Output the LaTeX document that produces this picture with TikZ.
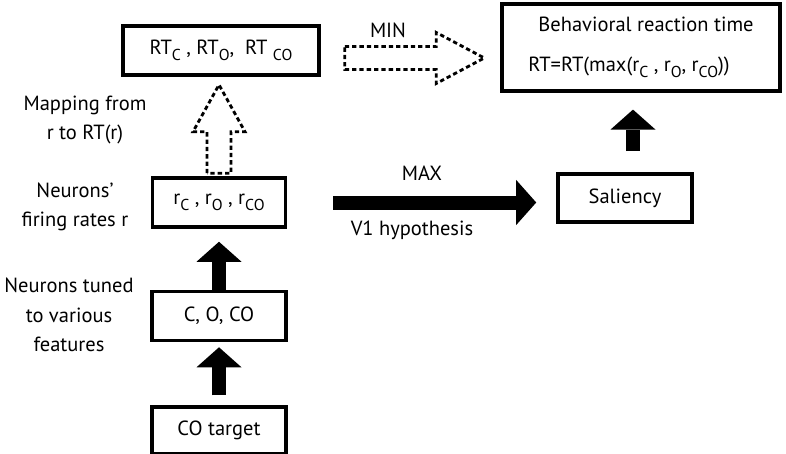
\documentclass[tikz,border=0pt]{standalone}
\usepackage{fontspec}
\setmainfont{PT Sans}
\usetikzlibrary{positioning, calc, arrows.meta}
\newcommand{\lsub}[1]{\raisebox{-0.6ex}{\fontsize{13.5}{14}\selectfont #1}}
\tikzset{box/.style={draw, line width=3pt, inner sep=0pt, align=center},
         lbl/.style={align=center},
         fat/.style={line width=0.42cm, -{Triangle[width=1.35cm, length=0.6cm, line width=0pt]}},
         hollow/.style={line width=0.085cm, dash pattern=on 0.13cm off 0.09cm},
         }

\begin{document}
\begin{tikzpicture}[x=0.03cm, y=-0.03cm, font=\fontsize{17.5}{25}\selectfont]
    \useasboundingbox (0,0) rectangle (786,454);

    % boxes
    \node[box, minimum width=5.88cm, minimum height=1.47cm] (rt) at (221,50.5) {RT\lsub{C} , RT\lsub{O},\ \ RT \lsub{CO}};
    \node[box, minimum width=8.34cm, minimum height=2.6cm, align=left] (behav) at (641,47.5)
        {\hspace*{0.3cm}Behavioral reaction time\\[0.3cm]RT=RT(max(r\lsub{C} , r\lsub{O}, r\lsub{CO}))};
    \node[box, minimum width=3.99cm, minimum height=1.47cm] (rbox) at (219,202.5) {r\lsub{C} , r\lsub{O} , r\lsub{CO}};
    \node[box, minimum width=4.02cm, minimum height=1.47cm, below=1.83cm of rbox] (feat) {C, O, CO};
    \node[box, minimum width=4.02cm, minimum height=1.41cm, below=1.89cm of feat] (target) {CO target};
    \node[box, minimum width=4.02cm, minimum height=1.44cm] (sal) at (625,198) {Saliency};

    % labels
    \node[lbl] (maplbl) at (85,120) {Mapping from\\r to RT(r)};
    \node[lbl] (ratelbl) at (75,207) {Neurons’\\firing rates r};
    \node[lbl] (tunelbl) at (69,315) {Neurons tuned\\to various\\features};
    \node (minlbl) at (388,30) {MIN};
    \node (maxlbl) at (422,173) {MAX};
    \node (v1lbl) at (412,230) {V1 hypothesis};

    % solid arrows
    \draw[fat, shorten <=0.3cm, shorten >=0.15cm] (target) -- (feat);
    \draw[fat, shorten >=0.39cm] (feat) -- (rbox);
    \draw[fat, shorten <=1.38cm, shorten >=0.6cm] (rbox.east) -- (rbox.east -| sal.west);
    \draw[fat, shorten <=0.63cm, shorten >=0.51cm] ([xshift=0.24cm]sal.north) -- ([xshift=0.24cm]sal.north |- behav.south);

    % dashed hollow arrows
    \coordinate (upA) at ($(rbox.north)+(0,-3)$);
    \coordinate (upB) at ($(upA |- rt.south)+(0,8)$);
    \draw[hollow] ($(upA)+(-12,0)$) -- ($(upB)+(-12,47)$) -- ($(upB)+(-26,47)$) -- (upB)
        -- ($(upB)+(26,47)$) -- ($(upB)+(12,47)$) -- ($(upA)+(12,0)$) -- cycle;
    \coordinate (minA) at ($(rt.east)+(24,7.5)$);
    \coordinate (minB) at ($(minA -| behav.west)+(-16,0)$);
    \draw[hollow] ($(minA)+(0,-11.5)$) -- ($(minB)+(-48,-11.5)$) -- ($(minB)+(-48,-25.5)$) -- (minB)
        -- ($(minB)+(-48,25.5)$) -- ($(minB)+(-48,11.5)$) -- ($(minA)+(0,11.5)$) -- cycle;
\end{tikzpicture}
\end{document}
